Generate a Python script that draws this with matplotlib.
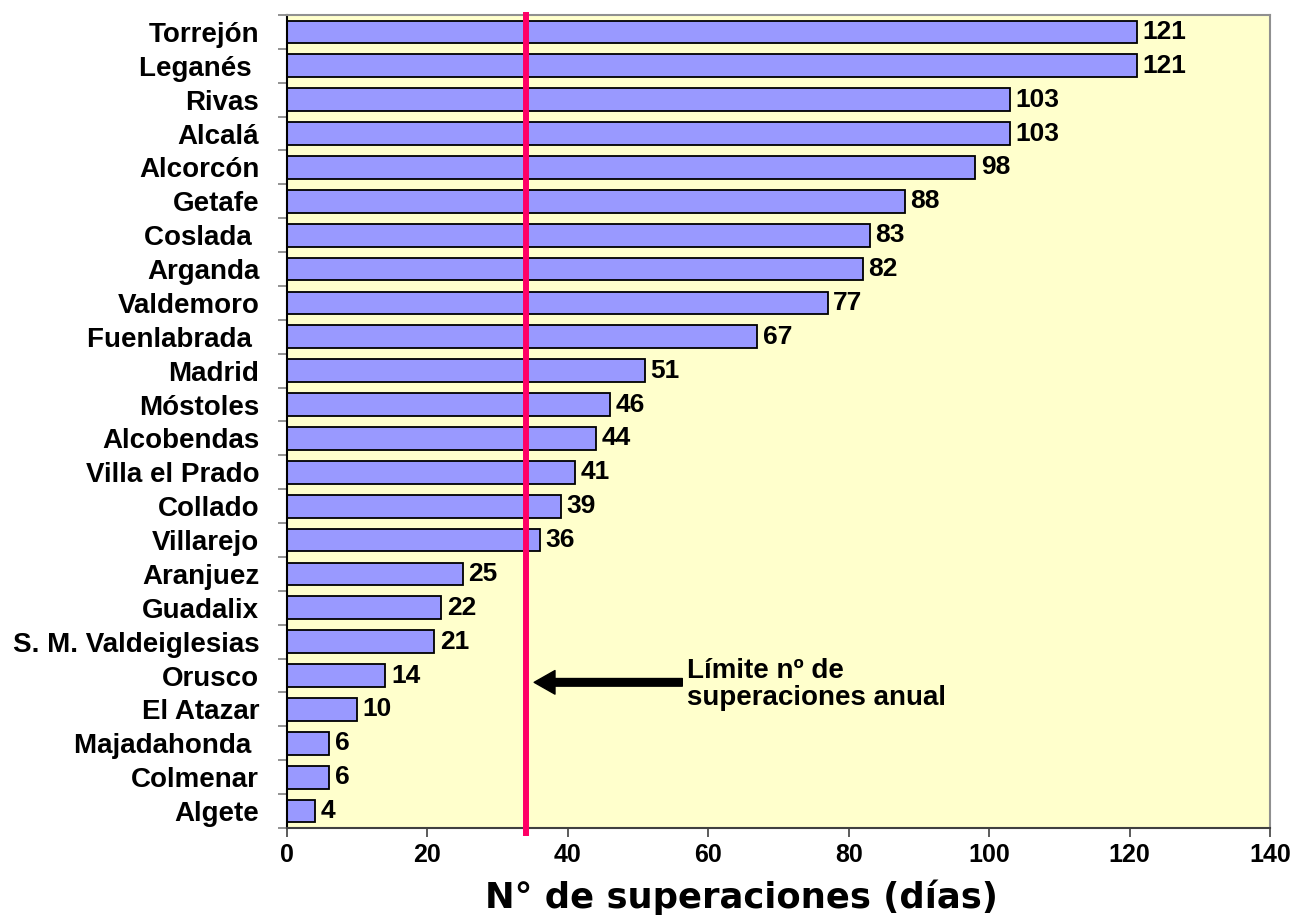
import matplotlib
matplotlib.use("Agg")
import matplotlib.pyplot as plt
import numpy as np

# estaciones, de arriba a abajo
estaciones = ["Torrejón", "Leganés ", "Rivas", "Alcalá", "Alcorcón", "Getafe",
              "Coslada ", "Arganda", "Valdemoro", "Fuenlabrada ", "Madrid",
              "Móstoles", "Alcobendas", "Villa el Prado", "Collado", "Villarejo",
              "Aranjuez", "Guadalix", "S. M. Valdeiglesias", "Orusco", "El Atazar",
              "Majadahonda ", "Colmenar", "Algete"]
superaciones = [121, 121, 103, 103, 98, 88, 83, 82, 77, 67, 51, 46, 44, 41,
                39, 36, 25, 22, 21, 14, 10, 6, 6, 4]
limite = 34
xticks = [0, 20, 40, 60, 80, 100, 120, 140]

plt.rcParams['font.family'] = ['Liberation Sans', 'DejaVu Sans']
plt.rcParams['font.weight'] = 'bold'

fig = plt.figure(figsize=(12.98, 9.22), dpi=100)
ax = fig.add_axes([287 / 1298, 1 - 828 / 922, (1270 - 287) / 1298, (828 - 15) / 922])
ax.set_facecolor('#FFFFCC')

y = np.arange(len(estaciones))
ax.barh(y, superaciones, height=0.67, color='#9999FF', edgecolor='black', linewidth=1.3, zorder=2)
for yi, v in zip(y, superaciones):
    ax.text(v + 0.8, yi, str(v), va='center', ha='left', fontsize=19, fontweight='bold', zorder=4)

ax.set_ylim(len(estaciones) - 0.5, -0.5)
ax.set_xlim(0, 140)
ax.set_xticks(xticks)
ax.set_xticklabels([str(t) for t in xticks], fontsize=18, fontweight='bold')
ax.set_yticks(y)
ax.set_yticklabels(estaciones, fontsize=20, fontweight='bold')
ax.set_yticks(np.arange(-0.5, len(estaciones)), minor=True)
ax.tick_params(axis='y', which='major', length=0, pad=20)
ax.tick_params(axis='y', which='minor', length=6.5, color='#808080', width=1.2)
ax.tick_params(axis='x', length=6.5, width=1.2, color='#404040', pad=4)

for s in ['top', 'right']:
    ax.spines[s].set_color('#909090')
    ax.spines[s].set_linewidth(1.5)
ax.spines['left'].set_color('black')
ax.spines['left'].set_linewidth(1.5)
ax.spines['bottom'].set_color('#404040')
ax.spines['bottom'].set_linewidth(1.5)

# límite anual
ax.axvline(limite, ymin=-0.006, ymax=1, color='#FF0066', lw=4.3, zorder=3, clip_on=False)
ax.annotate('', xy=(limite + 1.2, 19.2), xytext=(56.3, 19.2),
            arrowprops=dict(facecolor='black', edgecolor='black', width=5.5,
                            headwidth=17, headlength=15, shrink=0), zorder=5)
ax.text(57, 19.25, 'Límite nº de\nsuperaciones anual', fontsize=20, fontweight='bold',
        va='center', ha='left', linespacing=1.05, zorder=5)

fig.text(741 / 1298, 1 - 897 / 922, 'N° de superaciones (días)', family='DejaVu Sans',
         fontsize=25.5, fontweight='bold', ha='center', va='center')

fig.savefig('out.png', dpi=100)
